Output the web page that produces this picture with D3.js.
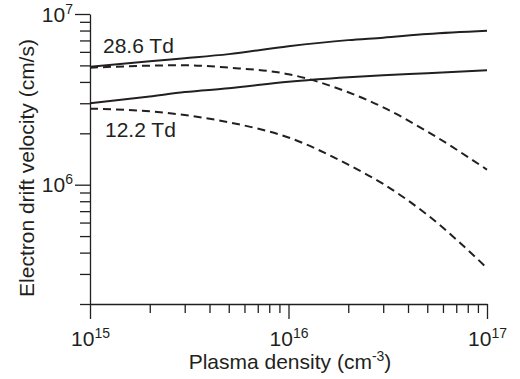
<!DOCTYPE html>
<html>
<head>
<meta charset="utf-8">
<script src="https://cdn.jsdelivr.net/npm/d3@7"></script>
<style>
  body { margin: 0; background: #fff; }
  svg text { font-family: "Liberation Sans", Arial, Helvetica, sans-serif; fill: #231f20; }
</style>
</head>
<body>
<svg id="chart"></svg>
<script>
// plasma density (cm^-3)
const density = [1e15, 2e15, 3e15, 5e15, 1e16, 2e16, 3e16, 5e16, 1e17];
// electron drift velocity (cm/s)
const solid286 = [4.9e6, 5.29e6, 5.51e6, 5.82e6, 6.48e6, 7.03e6, 7.27e6, 7.63e6, 7.97e6];
const dashed286 = [4.85e6, 4.98e6, 5.01e6, 4.85e6, 4.44e6, 3.48e6, 2.84e6, 2.05e6, 1.225e6];
const solid122 = [3.0e6, 3.29e6, 3.49e6, 3.67e6, 4.01e6, 4.26e6, 4.38e6, 4.5e6, 4.69e6];
const dashed122 = [2.79e6, 2.69e6, 2.56e6, 2.32e6, 1.89e6, 1.31e6, 1.01e6, 6.66e5, 3.25e5];

const xMajor = [1e15, 1e16, 1e17];
const yMajor = [1e6, 1e7];

const width = 520, height = 379;
const svg = d3.select('#chart').attr('width', width).attr('height', height);

const x = d3.scaleLog().domain([1e15, 1e17]).range([90, 487]);
const y = d3.scaleLog().domain([2e5, 1e7]).range([304, 14]);

// all decade ticks (1..9 x 10^n) inside the domains
const xTicks = x.ticks();
const yTicks = y.ticks();

const isMajor = v => Math.abs(Math.log10(v) - Math.round(Math.log10(v))) < 1e-9;

const xAxis = svg.append('g')
  .attr('transform', `translate(0,${y(2e5)})`)
  .call(d3.axisBottom(x).tickValues(xTicks).tickSize(9).tickSizeOuter(0).tickFormat(''));
xAxis.selectAll('.tick line').attr('y2', d => isMajor(d) ? 15 : 9);

const yAxis = svg.append('g')
  .attr('transform', `translate(${x(1e15)},0)`)
  .call(d3.axisLeft(y).tickValues(yTicks).tickSize(10).tickSizeOuter(0).tickFormat(''));
yAxis.selectAll('.tick line').attr('x2', d => isMajor(d) ? -15 : -10);

svg.selectAll('.domain, .tick line').attr('stroke', '#231f20').attr('stroke-width', 1.3);

// tick labels as 10^n
xAxis.selectAll('.tick')
  .filter(d => xMajor.includes(d))
  .append('text')
  .attr('y', 42)
  .attr('text-anchor', 'middle')
  .attr('font-size', 21)
  .call(t => {
    t.append('tspan').text('10');
    t.append('tspan').attr('font-size', 14).attr('dy', -8).text(d => Math.round(Math.log10(d)));
  });

yAxis.selectAll('.tick')
  .filter(d => yMajor.includes(d))
  .append('text')
  .attr('x', -17)
  .attr('y', 7)
  .attr('text-anchor', 'end')
  .attr('font-size', 21)
  .call(t => {
    t.append('tspan').text('10');
    t.append('tspan').attr('font-size', 14).attr('dy', -8).text(d => Math.round(Math.log10(d)));
  });

// axis titles
const xt = svg.append('text')
  .attr('x', 290).attr('y', 369)
  .attr('text-anchor', 'middle')
  .attr('font-size', 21);
xt.append('tspan').text('Plasma density (cm');
xt.append('tspan').attr('font-size', 14).attr('dy', -8).text('-3');
xt.append('tspan').attr('dy', 8).text(')');

svg.append('text')
  .attr('transform', 'translate(34,168) rotate(-90)')
  .attr('text-anchor', 'middle')
  .attr('font-size', 21)
  .text('Electron drift velocity (cm/s)');

// curves
const line = d3.line()
  .x((d, i) => x(density[i]))
  .y(d => y(d))
  .curve(d3.curveMonotoneX);

const series = [
  { values: solid286, dash: null },
  { values: dashed286, dash: '8,5' },
  { values: solid122, dash: null },
  { values: dashed122, dash: '8,5' }
];

svg.selectAll('path.curve')
  .data(series)
  .enter().append('path')
  .attr('class', 'curve')
  .attr('d', d => line(d.values))
  .attr('fill', 'none')
  .attr('stroke', '#231f20')
  .attr('stroke-width', 2)
  .attr('stroke-dasharray', d => d.dash);

// curve labels
svg.append('text').attr('x', 103).attr('y', 53).attr('font-size', 21).text('28.6 Td');
svg.append('text').attr('x', 105).attr('y', 137).attr('font-size', 21).text('12.2 Td');
</script>
</body>
</html>
